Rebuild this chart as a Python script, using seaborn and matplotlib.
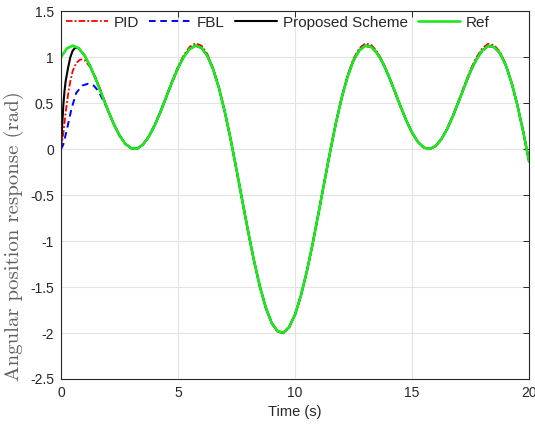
import numpy as np
import pandas as pd
import matplotlib
matplotlib.use("Agg")
import matplotlib.pyplot as plt
import seaborn as sns

# ---------------- data ----------------
time = np.linspace(0, 20, 81)  # 0.25 s sampling grid

ref = [1.000, 1.094, 1.125, 1.098, 1.020, 0.900, 0.752, 0.589, 0.425, 0.274,
       0.148, 0.057, 0.008, 0.004, 0.048, 0.134, 0.256, 0.404, 0.567, 0.731,
       0.882, 1.006, 1.090, 1.125, 1.101, 1.016, 0.868, 0.662, 0.403, 0.104,
       -0.225, -0.566, -0.902, -1.218, -1.497, -1.724, -1.889, -1.981, -1.997, -1.934,
       -1.798, -1.594, -1.334, -1.031, -0.701, -0.360, -0.027, 0.288, 0.564, 0.793,
       0.965, 1.075, 1.123, 1.111, 1.045, 0.936, 0.794, 0.633, 0.468, 0.312,
       0.178, 0.077, 0.016, 0.001, 0.032, 0.107, 0.219, 0.362, 0.523, 0.689,
       0.848, 0.976, 1.072, 1.121, 1.109, 1.045, 0.914, 0.722, 0.476, 0.187,
       -0.136]

# PID: transient part, then tracking (slight overshoot at the peaks)
pid_head_t = [0.0, 0.1, 0.2, 0.3, 0.4, 0.5, 0.65, 0.8, 0.9, 1.0, 1.25, 1.5, 1.75]
pid_head = [0.0, 0.17, 0.40, 0.59, 0.74, 0.85, 0.935, 0.97, 0.975, 0.97, 0.89, 0.77, 0.60]
pid_tail = [0.428, 0.276, 0.150, 0.058, 0.009, 0.005, 0.050, 0.138, 0.262, 0.412,
            0.577, 0.744, 0.898, 1.024, 1.112, 1.150, 1.125, 1.035, 0.880, 0.668,
            0.405, 0.104, -0.227, -0.570, -0.907, -1.223, -1.503, -1.730, -1.895, -1.988,
            -2.003, -1.940, -1.802, -1.597, -1.336, -1.032, -0.701, -0.358, -0.023, 0.294,
            0.574, 0.808, 0.985, 1.098, 1.148, 1.133, 1.062, 0.948, 0.801, 0.637,
            0.470, 0.313, 0.179, 0.078, 0.017, 0.002, 0.034, 0.110, 0.224, 0.370,
            0.535, 0.705, 0.868, 0.998, 1.096, 1.145, 1.130, 1.060, 0.925, 0.728,
            0.478, 0.187, -0.136]

# FBL: transient part, then follows the reference from t = 2.25 s
fbl_head_t = [0.0, 0.1, 0.25, 0.45, 0.65, 0.9, 1.15, 1.4, 1.6, 1.8, 2.0]
fbl_head = [0.0, 0.05, 0.21, 0.44, 0.61, 0.69, 0.71, 0.69, 0.63, 0.53, 0.43]

# Proposed scheme: fast transient, then follows the reference from t = 0.75 s
prop_head_t = [0.0, 0.05, 0.1, 0.15, 0.2, 0.3, 0.4, 0.5, 0.6]
prop_head = [0.0, 0.25, 0.48, 0.63, 0.74, 0.88, 1.00, 1.07, 1.10]

labels = ["PID", "FBL", "Proposed Scheme", "Ref"]
xticks = [0, 5, 10, 15, 20]
yticks = [-2.5, -2, -1.5, -1, -0.5, 0, 0.5, 1, 1.5]

# ---------------- build series ----------------
t_pid = list(pid_head_t) + list(time[8:])
y_pid = list(pid_head) + list(pid_tail)
t_fbl = list(fbl_head_t) + list(time[9:])
y_fbl = list(fbl_head) + list(ref[9:])
t_prop = list(prop_head_t) + list(time[3:])
y_prop = list(prop_head) + list(ref[3:])

series = {
    "PID": (t_pid, y_pid),
    "FBL": (t_fbl, y_fbl),
    "Proposed Scheme": (t_prop, y_prop),
    "Ref": (list(time), list(ref)),
}
frames = []
for name in labels:
    tt, yy = series[name]
    frames.append(pd.DataFrame({"t": tt, "y": yy, "series": name}))
df = pd.concat(frames, ignore_index=True)

# ---------------- plot ----------------
sns.set_theme(style="white")
plt.rcParams["font.family"] = ["Liberation Sans", "DejaVu Sans"]

fig = plt.figure(figsize=(5.35, 4.28), dpi=100)
ax = fig.add_axes([0.114, 0.1145, 0.875, 0.8595])

styles = {
    "PID": dict(color="#ff0000", lw=1.3, dashes=(3.6, 1.2, 1.0, 1.2)),
    "FBL": dict(color="#0000ff", lw=1.4, dashes=(3.4, 2.4)),
    "Proposed Scheme": dict(color="#000000", lw=1.5, dashes=None),
    "Ref": dict(color="#1ee81e", lw=1.9, dashes=None),
}
for name in labels:
    st = styles[name]
    sub = df[df["series"] == name]
    sns.lineplot(data=sub, x="t", y="y", ax=ax, color=st["color"], linewidth=st["lw"],
                 label=name, sort=False, estimator=None)
    if st["dashes"] is not None:
        ax.lines[-1].set_dashes(st["dashes"])

ax.set_xlim(0, 20)
ax.set_ylim(-2.5, 1.5)
ax.set_xticks(xticks)
ax.set_yticks(yticks)
ax.set_xticklabels([str(v) for v in xticks])
ax.set_yticklabels([("%g" % v) for v in yticks])

ax.grid(True, color="#e3e3e3", linewidth=0.8)
ax.set_axisbelow(True)
for s in ax.spines.values():
    s.set_color("#262626")
    s.set_linewidth(0.8)
ax.tick_params(direction="in", length=4, width=0.7, colors="#262626",
               labelsize=10, top=True, right=True, pad=5)

ax.set_xlabel("Time (s)", fontsize=10.5, color="#262626", labelpad=4)
ax.set_ylabel("Angular position response (rad)", fontsize=15, color="#606060",
              family=["cmr10", "DejaVu Serif"])
ax.yaxis.set_label_coords(-0.079, 0.389)

leg = ax.legend(loc="upper left", bbox_to_anchor=(0.0, 1.0), ncol=4, frameon=False,
                fontsize=11, handlelength=2.75, handletextpad=0.4,
                columnspacing=0.65, borderaxespad=0.1, borderpad=0.2)
for txt in leg.get_texts():
    txt.set_color("#262626")

fig.savefig("out.png", dpi=100)
